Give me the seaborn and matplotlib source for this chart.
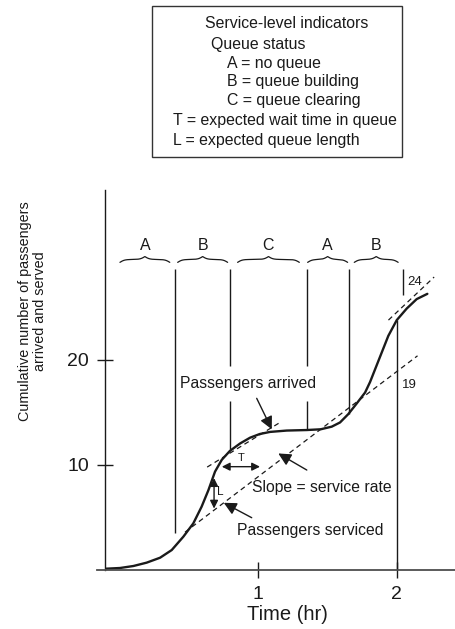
import numpy as np
import matplotlib
matplotlib.use("Agg")
import matplotlib.pyplot as plt
import seaborn as sns
from matplotlib.patches import Rectangle

# cumulative arrivals (time in hr, passengers)
arr_time = [-0.107, 0.0, 0.097, 0.193, 0.29, 0.374, 0.458, 0.53, 0.59, 0.639,
            0.687, 0.736, 0.795, 0.868, 0.94, 1.01, 1.084, 1.205, 1.35, 1.45,
            1.53, 1.59, 1.65, 1.71, 1.771, 1.807, 1.84, 1.87, 1.90, 1.939,
            2.0, 2.072, 2.144, 2.221]
arr_count = [0.12, 0.19, 0.38, 0.70, 1.17, 1.9, 3.17, 4.44, 6.03, 7.6,
             9.37, 10.5, 11.35, 12.05, 12.6, 12.95, 13.15, 13.28, 13.33, 13.4,
             13.65, 14.05, 14.85, 15.85, 16.9, 17.9, 19.0, 20.0, 21.0, 22.3,
             23.8, 24.9, 25.8, 26.3]

# dashed guide lines
service_time = [0.47, 2.15]
service_count = [3.6, 20.4]
tangent_time = [0.63, 1.15]
tangent_count = [9.8, 14.0]
late_time = [1.94, 2.27]
late_count = [23.8, 27.9]

# queue-status zones
zone_edges = [0.397, 0.795, 1.349, 1.655, 2.0]
zone_tops = [28.7, 28.7, 28.7, 28.7, 23.8]
zone_bottoms = [3.5, 11.5, 13.33, 14.85, 0.0]
brace_start = [0.0, 0.417, 0.85, 1.356, 1.693]
brace_end = [0.36, 0.778, 1.296, 1.645, 2.01]
zone_labels = ["A", "B", "C", "A", "B"]

legend_lines = ["Queue status", "A = no queue", "B = queue building",
                "C = queue clearing", "T = expected wait time in queue",
                "L = expected queue length"]

ink = "#1a1a1a"
dash = (0, (4, 3))

sns.set_theme(style="white")
plt.rcParams["font.family"] = ["Liberation Sans", "DejaVu Sans"]

fig = plt.figure(figsize=(4.56, 6.29), dpi=100)
ax = fig.add_axes([105 / 456, 1 - 570 / 629, 351 / 456, 380 / 629])


def brace(ax, x0, x1, y, h=0.55, beta=60.0):
    # horizontal curly brace, tip pointing up
    n = 201
    x = np.linspace(x0, x1, n)
    half = x[: n // 2 + 1]
    yh = (1 / (1 + np.exp(-beta * (half - half[0])))
          + 1 / (1 + np.exp(-beta * (half - half[-1]))))
    yy = np.concatenate((yh, yh[-2::-1]))
    ax.plot(x, y + (yy - 0.5) * h, color=ink, lw=0.9)


# curves
sns.lineplot(x=arr_time, y=arr_count, ax=ax, color=ink, lw=1.7, sort=False)
sns.lineplot(x=service_time, y=service_count, ax=ax, color=ink, lw=0.9,
             linestyle=dash)
sns.lineplot(x=tangent_time, y=tangent_count, ax=ax, color=ink, lw=0.9,
             linestyle=dash)
sns.lineplot(x=late_time, y=late_count, ax=ax, color=ink, lw=0.9,
             linestyle=dash)

# zone boundaries (two of them broken by the label)
for i, (xe, top, bot) in enumerate(zip(zone_edges, zone_tops, zone_bottoms)):
    if i in (1, 2):
        ax.vlines(xe, 19.4, top, color=ink, lw=1.0)
        ax.vlines(xe, bot, 16.1, color=ink, lw=1.0)
    else:
        ax.vlines(xe, bot, top, color=ink, lw=1.0)

for x0, x1, lab in zip(brace_start, brace_end, zone_labels):
    brace(ax, x0, x1, 29.3)
    ax.text((x0 + x1) / 2, 30.2, lab, ha="center", va="bottom", fontsize=11.5,
            color=ink)

# 24 / 19 marks
ax.vlines(2.048, 26.2, 28.7, color=ink, lw=1.0)
ax.text(2.075, 27.4, "24", fontsize=9.5, va="center", color=ink)
ax.text(2.036, 17.6, "19", fontsize=9.5, va="center", color=ink)

# annotations
arrow = dict(arrowstyle="-|>", color=ink, lw=1.0, mutation_scale=19,
             shrinkA=0, shrinkB=0)
ax.text(0.434, 17.8, "Passengers arrived", fontsize=11.3, va="center", color=ink)
ax.annotate("", xy=(1.097, 13.4), xytext=(0.988, 16.35), arrowprops=arrow)
ax.text(0.952, 7.84, "Slope = service rate", fontsize=11.3, va="center",
        color=ink)
ax.annotate("", xy=(1.144, 11.1), xytext=(1.35, 9.52), arrowprops=arrow)
ax.text(0.844, 3.74, "Passengers serviced", fontsize=11.3, va="center",
        color=ink)
ax.annotate("", xy=(0.75, 6.4), xytext=(0.952, 4.98), arrowprops=arrow)

both = dict(arrowstyle="<|-|>", color=ink, lw=1.0, mutation_scale=12,
            shrinkA=0, shrinkB=0)
ax.annotate("", xy=(0.736, 9.84), xytext=(1.012, 9.84), arrowprops=both)
ax.text(0.873, 10.2, "T", fontsize=8, ha="center", va="bottom", color=ink)
ax.annotate("", xy=(0.68, 8.75), xytext=(0.68, 5.85), arrowprops=both)
ax.text(0.7, 7.46, "L", fontsize=8.5, ha="left", va="center", color=ink)

# axes
ax.set_xlim(-0.108, 2.428)
ax.set_ylim(0, 36.19)
ax.set_xticks([1, 2])
ax.set_yticks([10, 20])
ax.tick_params(bottom=True, left=True, direction="inout", length=11, width=1,
               pad=6, labelsize=14, colors=ink)
for s in ["top", "right"]:
    ax.spines[s].set_visible(False)
ax.spines["left"].set_color(ink)
ax.spines["left"].set_linewidth(1.0)
ax.spines["bottom"].set_color("#4d4d4d")
ax.spines["bottom"].set_linewidth(1.3)
ax.spines["bottom"].set_bounds(-0.165, 2.428)
ax.set_xlabel("")
ax.set_ylabel("")
ax.text(0.52, -0.093, "Time (hr)", transform=ax.transAxes, ha="center",
        va="top", fontsize=14.5, color=ink)
ax.text(-0.2066, 0.6816, "Cumulative number of passengers\narrived and served",
        transform=ax.transAxes, rotation=90, ha="center", va="center",
        multialignment="center", color=ink, linespacing=1.05, fontsize=10.4)

# legend box at top
fig.add_artist(Rectangle((152 / 456, 1 - 157 / 629), 250 / 456, 151 / 629,
                         transform=fig.transFigure, fill=False,
                         edgecolor="#333333", lw=1.0))
fig.text(286.7 / 456, 1 - 23.3 / 629, "Service-level indicators", ha="center",
         va="center", fontsize=11.4, color=ink)
legend_x = [210.7, 226.7, 226.7, 226.7, 173.3, 173.3]
legend_y = [44.3, 63.3, 81.7, 100.7, 120.7, 140.0]
for txt, lx, ly in zip(legend_lines, legend_x, legend_y):
    fig.text(lx / 456, 1 - ly / 629, txt, ha="left", va="center", fontsize=11.4,
             color=ink)

fig.savefig("out.png", dpi=100)
